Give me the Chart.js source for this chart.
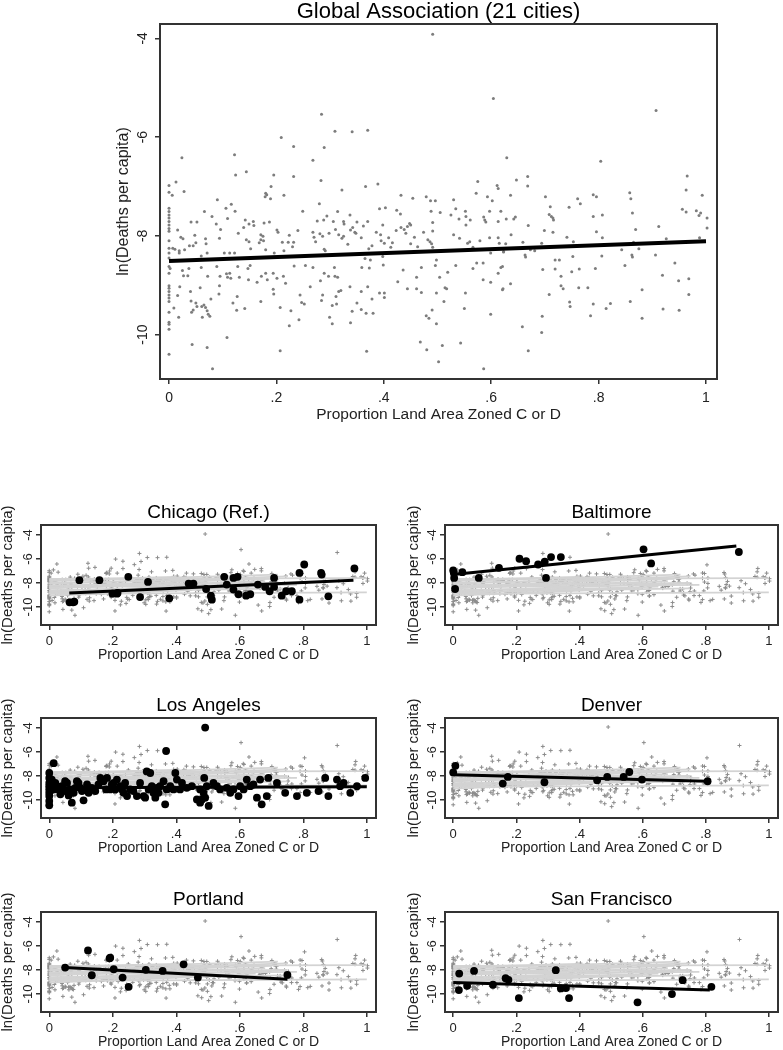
<!DOCTYPE html>
<html><head><meta charset="utf-8">
<script src="https://cdn.jsdelivr.net/npm/chart.js@4.4.1/dist/chart.umd.min.js"></script>
<style>
body{margin:0;background:#fff;width:783px;height:1050px;position:relative;overflow:hidden}
canvas{position:absolute;display:block}
</style></head><body>
<canvas id="c0" width="783" height="430" style="left:0;top:0"></canvas>
<canvas id="c1" width="391" height="190" style="left:0;top:490px"></canvas>
<canvas id="c2" width="392" height="190" style="left:391px;top:490px"></canvas>
<canvas id="c3" width="391" height="190" style="left:0;top:683px"></canvas>
<canvas id="c4" width="392" height="190" style="left:391px;top:683px"></canvas>
<canvas id="c5" width="391" height="190" style="left:0;top:877px"></canvas>
<canvas id="c6" width="392" height="190" style="left:391px;top:877px"></canvas>
<script>
// ---------- tick labels / titles ----------
const xTicks = [0, 0.2, 0.4, 0.6, 0.8, 1];
const xTickLabels = ['0', '.2', '.4', '.6', '.8', '1'];
const yTicks = [-10, -8, -6, -4];
const yTickLabels = ['-10', '-8', '-6', '-4'];
const xTitle = 'Proportion Land Area Zoned C or D';
const yTitle = 'ln(Deaths per capita)';
const mainTitle = 'Global Association (21 cities)';
const cityNames = ['Chicago (Ref.)', 'Baltimore', 'Los Angeles', 'Denver', 'Portland', 'San Francisco'];

// ---------- global scatter (all 21 cities) [x, y] ----------
const globalPoints = [
[0,-6.98],[0,-7.12],[0,-7.44],[0,-7.51],[0,-7.58],[0,-7.64],[0,-7.71],[0,-7.78],[0,-7.85],[0,-7.91],[0,-8.10],[0,-8.25],[0,-8.35],[0,-8.45],[0,-8.62],[0,-8.76],[0,-9.01],[0,-9.06],[0,-9.13],[0,-9.20],[0,-9.26],[0,-9.33],[0,-9.55],[0,-9.75],[0,-9.79],[0,-9.89],[0,-10.40],
[0.284,-5.54],[0.309,-5.88],[0.289,-6.21],[0.232,-6.19],[0.209,-6.01],[0.122,-6.36],[0.024,-6.42],[0.124,-6.77],[0.144,-6.70],[0.232,-6.80],[0.195,-6.77],[0.268,-6.47],[0.283,-6.88],[0.013,-6.91],[0.028,-7.10],[0.190,-7.00],[0.214,-7.18],[0.006,-7.18],
[0.090,-7.27],[0.066,-7.51],[0.080,-7.61],[0.088,-7.76],[0.106,-7.44],[0.116,-7.36],[0.123,-7.50],[0.109,-7.65],[0.096,-7.87],[0.041,-7.72],[0.052,-7.72],[0.038,-8.20],[0.045,-8.20],[0.048,-7.99],[0.050,-8.14],[0.022,-8.03],[0.026,-8.06],[0.016,-7.88],[0.029,-8.28],[0.019,-8.30],[0.007,-8.25],[0.011,-8.27],[0.019,-8.35],[0.068,-8.06],[0.069,-8.16],[0.071,-8.35],[0.060,-8.41],[0.094,-8.05],[0.103,-8.35],[0.113,-8.35],[0.122,-8.35],[0.129,-7.95],[0.139,-7.83],[0.142,-7.68],[0.149,-7.76],[0.157,-7.71],[0.158,-7.79],[0.144,-8.08],[0.149,-8.12],[0.152,-8.26],[0.168,-8.14],[0.171,-8.08],[0.175,-8.01],[0.179,-7.21],[0.180,-7.14],[0.182,-7.17],[0.189,-7.25],[0.177,-7.74],[0.187,-7.72],[0.171,-7.98],[0.176,-8.10],[0.180,-8.28],[0.196,-8.35],[0.201,-7.88],[0.203,-7.93],[0.211,-8.13],[0.214,-8.30],[0.222,-8.13],[0.232,-8.13],[0.224,-7.99],[0.230,-8.22],[0.240,-7.89],[0.249,-7.50],[0.268,-7.93],[0.270,-8.03],[0.273,-8.12],[0.276,-7.70],[0.280,-7.35],[0.281,-7.96],[0.286,-8.01],[0.288,-7.68],[0.289,-8.27],[0.291,-8.30],[0.294,-7.60],[0.298,-7.95],[0.306,-7.71],[0.310,-7.87],[0.314,-7.51],[0.316,-7.98],
[0.002,-8.66],[0.025,-8.70],[0.027,-8.81],[0.035,-8.81],[0.037,-8.66],[0.020,-9.03],[0.016,-9.21],[0.009,-9.46],[0.018,-9.65],[0.040,-9.13],[0.041,-9.32],[0.042,-9.55],[0.045,-9.50],[0.050,-9.36],[0.052,-9.43],[0.058,-9.05],[0.060,-8.64],[0.061,-9.43],[0.062,-9.65],[0.065,-9.40],[0.068,-9.45],[0.071,-9.52],[0.073,-9.59],[0.076,-9.63],[0.078,-9.28],[0.072,-8.82],[0.089,-8.62],[0.095,-8.82],[0.094,-9.01],[0.093,-9.18],[0.107,-8.77],[0.109,-8.84],[0.113,-8.76],[0.115,-8.86],[0.119,-9.36],[0.126,-9.51],[0.127,-9.23],[0.131,-8.84],[0.128,-8.62],[0.141,-9.47],[0.148,-8.89],[0.147,-8.66],[0.151,-8.60],[0.164,-8.94],[0.171,-9.33],[0.172,-8.82],[0.180,-8.76],[0.183,-8.89],[0.194,-8.76],[0.194,-9.08],[0.195,-9.18],[0.201,-8.86],[0.207,-9.45],[0.213,-8.82],[0.217,-8.96],[0.224,-9.82],[0.227,-9.52],[0.233,-8.61],[0.242,-9.70],[0.244,-9.20],[0.247,-9.35],[0.252,-9.38],[0.254,-8.60],[0.263,-9.03],[0.268,-8.64],[0.282,-8.91],[0.286,-9.20],[0.284,-9.31],[0.289,-8.76],[0.297,-8.82],[0.299,-9.65],[0.304,-9.78],[0.304,-9.41],[0.308,-8.64],[0.309,-8.82],[0.311,-9.23],[0.312,-9.38],[0.314,-8.84],[0.316,-9.13],
[0.043,-10.20],[0.071,-10.26],[0.108,-10.06],[0.081,-10.69],[0.207,-10.33],
[0.491,-3.92],[0.604,-5.22],[0.341,-5.89],[0.370,-5.86],[0.629,-6.42],[0.322,-7.07],[0.366,-7.00],[0.389,-6.95],[0.575,-6.90],[0.611,-6.98],[0.613,-7.04],[0.636,-7.18],[0.647,-6.87],[0.668,-6.80],[0.668,-6.99],[0.432,-7.18],[0.454,-7.24],[0.479,-7.21],[0.487,-7.29],[0.496,-7.29],[0.530,-7.27],[0.534,-7.45],[0.572,-7.14],[0.593,-7.21],[0.602,-7.29],[0.392,-7.45],[0.403,-7.43],[0.424,-7.48],[0.431,-7.56],[0.488,-7.50],[0.505,-7.53],[0.525,-7.58],[0.540,-7.66],[0.552,-7.50],[0.553,-7.61],[0.561,-7.68],[0.553,-7.78],[0.586,-7.62],[0.588,-7.68],[0.590,-7.72],[0.597,-7.50],[0.613,-7.71],[0.618,-7.50],[0.628,-7.66],[0.642,-7.66],[0.645,-7.62],[0.669,-7.79],[0.325,-7.71],[0.326,-7.76],[0.337,-7.58],[0.338,-7.88],[0.342,-7.83],[0.346,-7.93],[0.348,-7.95],[0.350,-7.72],[0.358,-8.04],[0.362,-7.80],[0.370,-7.71],[0.322,-8.05],[0.325,-8.01],[0.333,-8.17],[0.372,-8.26],[0.378,-8.20],[0.386,-7.93],[0.394,-7.98],[0.398,-7.78],[0.395,-8.10],[0.401,-8.15],[0.409,-8.04],[0.416,-8.14],[0.413,-8.23],[0.423,-7.89],[0.432,-7.83],[0.438,-7.87],[0.441,-7.95],[0.444,-7.81],[0.448,-7.75],[0.450,-7.78],[0.457,-8.03],[0.463,-8.22],[0.450,-8.16],[0.474,-7.93],[0.482,-8.08],[0.486,-8.12],[0.489,-8.16],[0.491,-8.23],[0.491,-7.73],[0.491,-7.90],[0.530,-7.98],[0.541,-8.05],[0.556,-8.15],[0.560,-8.12],[0.566,-8.23],[0.579,-8.10],[0.597,-8.04],[0.599,-8.35],[0.597,-8.28],[0.613,-8.04],[0.615,-8.15],[0.623,-8.32],[0.627,-8.16],[0.637,-7.98],[0.659,-8.13],[0.663,-8.39],[0.664,-8.43],
[0.359,-8.64],[0.365,-8.46],[0.373,-8.65],[0.375,-8.49],[0.398,-8.42],[0.399,-8.59],[0.436,-8.69],[0.470,-8.64],[0.496,-8.60],[0.498,-8.49],[0.534,-8.60],[0.566,-8.66],[0.573,-8.55],[0.585,-8.55],[0.618,-8.64],[0.621,-8.62],[0.623,-8.33],[0.320,-9.11],[0.337,-9.03],[0.358,-9.13],[0.370,-9.03],[0.378,-9.28],[0.392,-9.16],[0.401,-9.16],[0.401,-9.25],[0.426,-8.93],[0.444,-9.07],[0.461,-8.84],[0.461,-9.07],[0.470,-9.15],[0.498,-9.16],[0.504,-8.84],[0.512,-9.33],[0.514,-9.05],[0.517,-9.07],[0.519,-8.74],[0.552,-9.16],[0.550,-9.47],[0.585,-8.89],[0.599,-8.94],[0.599,-9.59],[0.613,-8.76],[0.621,-9.09],[0.622,-9.07],[0.636,-8.97],[0.338,-9.76],[0.341,-9.53],[0.350,-9.36],[0.358,-9.49],[0.367,-9.57],[0.380,-9.57],[0.479,-9.62],[0.484,-9.67],[0.490,-9.50],[0.498,-9.78],[0.658,-9.84],
[0.368,-10.34],[0.468,-10.15],[0.480,-10.31],[0.509,-10.22],[0.543,-10.17],[0.502,-10.55],[0.586,-10.69],[0.669,-10.33],
[0.907,-5.46],[0.804,-6.49],[0.965,-6.79],[0.963,-7.07],[0.993,-7.18],[0.701,-7.21],[0.710,-7.41],[0.708,-7.57],[0.712,-7.61],[0.715,-7.64],[0.716,-7.68],[0.745,-7.42],[0.761,-7.25],[0.766,-7.35],[0.790,-7.17],[0.796,-7.21],[0.790,-7.61],[0.807,-7.58],[0.796,-7.92],[0.807,-8.04],[0.858,-7.13],[0.860,-7.25],[0.863,-7.54],[0.869,-7.87],[0.912,-7.81],[0.926,-8.06],[0.956,-7.46],[0.963,-7.52],[0.982,-7.49],[0.987,-7.59],[0.990,-7.54],[1.002,-7.64],[1.002,-7.84],[0.988,-8.04],[0.699,-7.89],[0.715,-7.93],[0.741,-8.03],[0.753,-8.12],[0.694,-8.15],[0.681,-8.30],[0.673,-8.28],[0.843,-8.28],[0.865,-8.13],[0.875,-8.26],[0.862,-8.39],[0.863,-8.43],[0.849,-8.60],[0.906,-8.39],[0.942,-8.55],[0.719,-8.49],[0.727,-8.49],[0.752,-8.42],[0.696,-8.68],[0.719,-8.67],[0.764,-8.67],[0.794,-8.66],[0.806,-8.41],[0.750,-8.73],[0.730,-8.82],[0.730,-9.01],[0.734,-9.07],[0.763,-9.05],[0.780,-9.05],[0.708,-9.19],[0.746,-9.34],[0.747,-9.43],[0.790,-9.38],[0.814,-9.47],[0.822,-9.37],[0.785,-9.62],[0.859,-9.33],[0.881,-9.09],[0.881,-9.67],[0.919,-8.80],[0.949,-8.91],[0.968,-8.87],[0.968,-9.19],[0.920,-9.48],[0.950,-9.51],[0.695,-9.63],[0.694,-9.96]
];
const globalLine = [[0, -8.51], [1, -8.11]];

// ---------- light-grey band: fitted lines of the other cities [x0, y0, x1, y1] ----------
const bandLines = [
[0,-7.65,1,-7.60],[0,-8.90,1,-8.78],[0,-7.85,0.72,-7.30],[0,-8.05,0.75,-7.45],[0,-8.25,0.70,-7.65],
[0,-8.45,0.68,-7.85],[0,-8.65,0.72,-8.05],[0,-8.85,0.65,-8.30],[0,-8.20,0.75,-8.00],[0,-8.60,0.60,-8.40],
[0,-8.00,0.55,-7.70],[0,-8.40,0.50,-8.00],[0,-9.05,0.45,-8.60],[0,-7.75,0.40,-7.50],[0,-8.75,0.75,-8.45],[0,-8.35,0.78,-8.15]
];

// ---------- highlighted cities ----------
const chicagoPoints = [[0.064,-9.61],[0.075,-9.61],[0.079,-9.56],[0.095,-7.77],[0.158,-7.77],[0.199,-8.89],[0.213,-8.89],[0.215,-8.83],[0.249,-7.49],[0.286,-9.17],[0.311,-7.91],[0.378,-9.28],[0.439,-8.05],[0.454,-8.05],[0.494,-8.50],[0.509,-9.06],[0.512,-9.39],[0.551,-7.49],[0.559,-8.13],[0.580,-7.58],[0.593,-7.49],[0.580,-8.55],[0.596,-8.94],[0.620,-9.06],[0.633,-8.94],[0.657,-8.13],[0.680,-8.33],[0.694,-8.69],[0.708,-7.58],[0.708,-8.33],[0.732,-9.06],[0.746,-8.69],[0.764,-8.69],[0.788,-9.39],[0.788,-7.16],[0.803,-6.46],[0.856,-7.16],[0.858,-7.30],[0.879,-9.11],[0.961,-6.79]];
const chicagoLine = [[0.063,-8.83],[0.958,-7.77]];
const baltimorePoints = [[0,-6.96],[0.002,-7.16],[0.003,-7.58],[0.006,-8.50],[0.029,-7.10],[0.081,-7.58],[0.145,-6.74],[0.210,-5.98],[0.231,-6.18],[0.269,-6.46],[0.290,-6.23],[0.294,-7.58],[0.310,-5.84],[0.341,-5.84],[0.603,-5.20],[0.627,-6.37],[0.905,-5.42]];
const baltimoreLine = [[0,-7.30],[0.897,-4.92]];
const losAngelesPoints = [[0,-7.75],[0,-8.16],[0,-8.58],[0,-8.85],[0,-9.12],[0,-9.40],[0,-9.67],[0,-10.08],[0,-10.44],[0.014,-6.93],[0.014,-9.12],[0.024,-8.85],[0.035,-9.53],[0.056,-8.58],[0.066,-9.12],[0.077,-9.40],[0.087,-8.44],[0.098,-8.99],[0.071,-10.22],[0.092,-8.58],[0.103,-9.26],[0.113,-9.12],[0.124,-9.40],[0.134,-8.99],[0.108,-10.03],[0.161,-8.16],[0.171,-8.44],[0.182,-8.16],[0.192,-9.12],[0.203,-8.58],[0.213,-8.30],[0.224,-8.85],[0.234,-9.40],[0.245,-9.67],[0.208,-9.12],[0.179,-9.12],[0.265,-9.26],[0.276,-9.67],[0.286,-8.58],[0.297,-9.67],[0.302,-9.81],[0.313,-9.12],[0.328,-9.40],[0.339,-8.99],[0.349,-8.85],[0.307,-7.62],[0.318,-7.75],[0.368,-5.92],[0.360,-8.44],[0.370,-9.12],[0.365,-10.36],[0.381,-8.85],[0.397,-7.75],[0.402,-8.30],[0.412,-9.12],[0.433,-8.99],[0.491,-3.97],[0.465,-9.95],[0.475,-10.22],[0.486,-9.40],[0.481,-9.95],[0.491,-9.81],[0.502,-10.49],[0.496,-8.85],[0.488,-8.16],[0.517,-8.58],[0.538,-9.12],[0.559,-8.99],[0.580,-9.12],[0.601,-8.85],[0.622,-8.30],[0.612,-9.12],[0.596,-9.67],[0.654,-9.81],[0.669,-10.36],[0.664,-8.30],[0.685,-9.67],[0.690,-8.16],[0.717,-8.58],[0.743,-9.40],[0.780,-9.67],[0.811,-9.40],[0.848,-9.26],[0.869,-8.16],[0.879,-9.67],[0.906,-8.30],[0.916,-8.85],[0.948,-9.40],[0.927,-8.58],[0.969,-8.85],[0.995,-8.16],[0.008,-8.30],[0.019,-8.58],[0.029,-9.12],[0.040,-8.85],[0.045,-9.26],[0.050,-8.44],[0.061,-9.62],[0.082,-8.99],[0.119,-8.71],[0.145,-9.26],[0.155,-8.71],[0.197,-8.71],[0.229,-9.12],[0.239,-8.58],[0.255,-9.12],[0.323,-8.85],[0.334,-9.81],[0.344,-9.40],[0.391,-9.12],[0.418,-8.58],[0.449,-8.85],[0.475,-9.12],[0.528,-8.85],[0.570,-9.40],[0.633,-8.85],[0.643,-8.71]];
const losAngelesLine = [[0,-8.99],[1,-8.90]];
const denverPoints = [[0,-7.70],[0.007,-7.15],[0.157,-8.63],[0.173,-8.08],[0.289,-8.52],[0.456,-8.36],[0.488,-8.08],[0.540,-8.08],[0.558,-7.67],[0.598,-8.30],[0.806,-8.44]];
const denverLine = [[0,-7.89],[0.806,-8.44]];
const portlandPoints = [[0.050,-7.80],[0.122,-6.37],[0.134,-8.44],[0.190,-7.03],[0.192,-6.98],[0.203,-7.94],[0.231,-8.63],[0.250,-9.40],[0.304,-7.99],[0.357,-8.08],[0.423,-7.53],[0.468,-8.63],[0.750,-8.41]];
const portlandLine = [[0.048,-7.80],[0.750,-8.77]];
const sanFranciscoPoints = [[0.019,-8.30],[0.018,-9.67],[0.044,-9.32],[0.066,-8.08],[0.126,-9.23],[0.166,-8.68],[0.175,-8.82],[0.208,-10.34],[0.325,-8.02],[0.341,-9.54],[0.357,-9.51],[0.367,-10.34],[0.584,-10.69],[0.693,-10.01],[0.727,-8.85],[0.818,-9.40]];
const sanFranciscoLine = [[0,-9.04],[0.813,-9.67]];

// ---------- drawing ----------
const FONT = '"Liberation Sans", Arial, sans-serif';
const xy = arr => arr.map(p => ({x: p[0], y: p[1]}));

const framePlugin = {
  id: 'frame',
  afterDatasetsDraw(chart, args, o) {
    const {ctx, chartArea: a} = chart;
    ctx.save();
    ctx.strokeStyle = o.color;
    ctx.lineWidth = o.lineWidth;
    ctx.strokeRect(a.left, a.top, a.right - a.left, a.bottom - a.top);
    ctx.fillStyle = '#000';
    ctx.font = o.titleSize + 'px ' + FONT;
    ctx.textAlign = 'center';
    ctx.textBaseline = 'middle';
    ctx.fillText(o.title, (a.left + a.right) / 2, a.top - o.titleGap);
    ctx.restore();
  }
};

function scales(c) {
  return {
    x: {
      type: 'linear', position: 'bottom', min: c.xMin, max: c.xMax,
      afterBuildTicks: s => { s.ticks = xTicks.map(v => ({value: v})); },
      afterFit: s => { s.height = c.xH; },
      grid: {display: true, drawOnChartArea: false, drawTicks: true, tickLength: 5, color: '#333', lineWidth: 1.5},
      border: {display: false},
      ticks: {autoSkip: false, maxRotation: 0, minRotation: 0, padding: c.xPad, color: '#222',
               font: {family: FONT, size: c.tickSize}, callback: (v, i) => xTickLabels[i]},
      title: {display: true, text: xTitle, color: '#222', font: {family: FONT, size: c.xTitleSize}, padding: {top: 0, bottom: 0}}
    },
    y: {
      type: 'linear', position: 'left', min: c.yMin, max: c.yMax,
      afterBuildTicks: s => { s.ticks = yTicks.map(v => ({value: v})); },
      afterFit: s => { s.width = c.yW; },
      grid: {display: true, drawOnChartArea: false, drawTicks: true, tickLength: 5, color: '#333', lineWidth: 1.5},
      border: {display: false},
      ticks: {autoSkip: false, minRotation: 90, maxRotation: 90, crossAlign: 'center', padding: c.yPad, color: '#222',
              font: {family: FONT, size: c.tickSize}, callback: (v, i) => yTickLabels[i]},
      title: {display: true, text: yTitle, color: '#222', font: {family: FONT, size: c.yTitleSize, lineHeight: c.yTitleLH}, padding: {top: c.yTitlePad, bottom: 0}}
    }
  };
}

// main panel
new Chart(document.getElementById('c0'), {
  type: 'scatter',
  data: {datasets: [
    {type: 'line', data: xy(globalLine), borderColor: '#000', borderWidth: 4, pointRadius: 0, fill: false},
    {data: xy(globalPoints), pointStyle: 'circle', pointRadius: 1.5, backgroundColor: '#7d7d7d', borderWidth: 0}
  ]},
  options: {
    responsive: false, animation: false, events: [], devicePixelRatio: 1,
    layout: {padding: {left: 100, right: 66, top: 24, bottom: 6}},
    plugins: {legend: {display: false}, tooltip: {enabled: false},
      frame: {title: mainTitle, titleSize: 22, titleGap: 12, color: '#333', lineWidth: 2}},
    scales: scales({xMin: -0.0168, xMax: 1.0205, yMin: -10.90, yMax: -3.71, xH: 45, yW: 60,
      xPad: 6, yPad: 2, tickSize: 14, xTitleSize: 15.5, yTitleSize: 16, yTitleLH: 1.2, yTitlePad: 14})
  },
  plugins: [framePlugin]
});

// city panels
const cityPoints = [chicagoPoints, baltimorePoints, losAngelesPoints, denverPoints, portlandPoints, sanFranciscoPoints];
const cityLines = [chicagoLine, baltimoreLine, losAngelesLine, denverLine, portlandLine, sanFranciscoLine];

cityNames.forEach((name, i) => {
  const col = i % 2;
  const band = bandLines.map(b => ({type: 'line', data: [{x: b[0], y: b[1]}, {x: b[2], y: b[3]}],
    borderColor: '#d3d3d3', borderWidth: 1.8, pointRadius: 0, fill: false}));
  new Chart(document.getElementById('c' + (i + 1)), {
    type: 'scatter',
    data: {datasets: [
      {type: 'line', data: xy(cityLines[i]), borderColor: '#000', borderWidth: 3, pointRadius: 0, fill: false},
      {data: xy(cityPoints[i]), pointStyle: 'circle', pointRadius: 3.9, backgroundColor: '#000', borderWidth: 0},
      ...band,
      {data: xy(globalPoints), pointStyle: 'cross', pointRadius: 2, borderColor: '#8c8c8c', borderWidth: 1}
    ]},
    options: {
      responsive: false, animation: false, events: [], devicePixelRatio: 1,
      layout: {padding: {left: col ? 15 : 0, right: col ? 3 : 15, top: 35, bottom: 16}},
      plugins: {legend: {display: false}, tooltip: {enabled: false},
        frame: {title: name, titleSize: 19, titleGap: 12, color: '#333', lineWidth: 2}},
      scales: scales({xMin: -0.026, xMax: 1.029, yMin: -11.50, yMax: -3.17, xH: 39, yW: col ? 39 : 41,
        xPad: 4, yPad: -2, tickSize: 13, xTitleSize: 14, yTitleSize: 15, yTitleLH: 1, yTitlePad: 0})
    },
    plugins: [framePlugin]
  });
});
</script>
</body></html>
